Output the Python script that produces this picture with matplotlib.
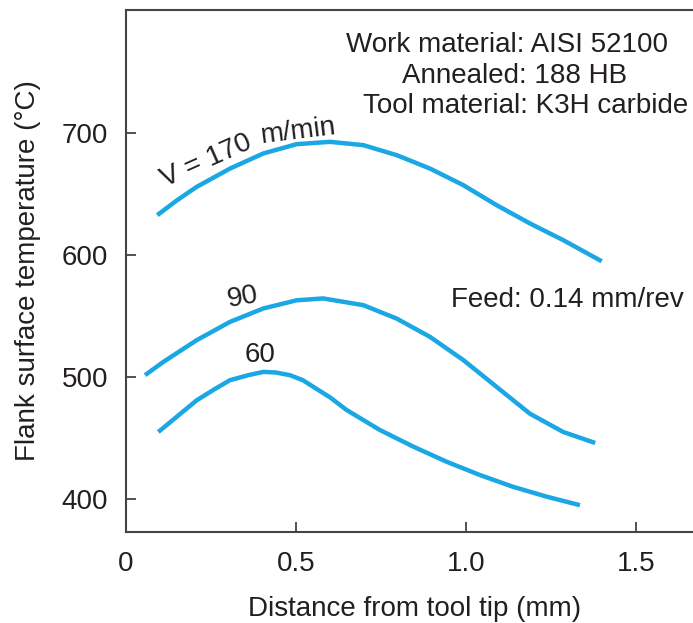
import matplotlib.pyplot as plt

plt.rcParams['font.family'] = ['Liberation Sans', 'DejaVu Sans']

# distance from tool tip (mm) and flank temperature (deg C)
x_170 = [0.092, 0.15, 0.208, 0.306, 0.404, 0.502, 0.60, 0.698, 0.796, 0.894, 0.992,
         1.09, 1.188, 1.286, 1.399]
t_170 = [632.8, 645, 656, 671, 683.4, 691, 692.9, 690.2, 682, 671, 657.4,
         641, 626, 612.3, 595]

x_90 = [0.056, 0.110, 0.208, 0.306, 0.404, 0.502, 0.58, 0.698, 0.796, 0.894,
        0.992, 1.09, 1.188, 1.286, 1.38]
t_90 = [501.6, 512.5, 530.3, 545.3, 556.3, 563, 564.5, 559, 548, 533,
        514, 492, 470, 455, 446]

x_60 = [0.095, 0.208, 0.26, 0.306, 0.36, 0.404, 0.44, 0.482, 0.52, 0.551, 0.60,
        0.649, 0.747, 0.845, 0.943, 1.041, 1.139, 1.237, 1.335]
t_60 = [455, 481, 490, 497.5, 501.6, 504.3, 503.8, 501.6, 497.5, 492, 483.4,
        473, 456.6, 443, 430.6, 419.7, 410, 402, 395]

xticks = [0, 0.5, 1.0, 1.5]
xtick_labels = ['0', '0.5', '1.0', '1.5']
yticks = [400, 500, 600, 700]

blue = '#1aa7e4'
ink = '#231f20'
fs = 20

fig = plt.figure(figsize=(6.93, 6.23), dpi=100)
ax = fig.add_axes([126 / 693, 91 / 623, 578 / 693, 522 / 623])

for xs, ts in [(x_170, t_170), (x_90, t_90), (x_60, t_60)]:
    ax.plot(xs, ts, color=blue, lw=3.2, solid_capstyle='butt', solid_joinstyle='round')

ax.set_xlim(0, 1.7)
ax.set_ylim(373, 801)
ax.set_xticks(xticks)
ax.set_xticklabels(xtick_labels)
ax.set_yticks(yticks)
ax.tick_params(direction='in', length=7, width=1.3, colors='#444444',
               labelcolor=ink, labelsize=fs, pad=13)
ax.tick_params(axis='x', pad=14)
ax.spines['right'].set_visible(False)
for s in ['left', 'top', 'bottom']:
    ax.spines[s].set_color('#444444')
    ax.spines[s].set_linewidth(1.5)
ax.xaxis.get_major_ticks()[0].tick1line.set_visible(False)

ax.set_xlabel('Distance from tool tip (mm)', fontsize=fs, color=ink, labelpad=13)
ax.set_ylabel('Flank surface temperature (\u00b0C)', fontsize=fs, color=ink, labelpad=15)

ax.text(0.115, 656, 'V = 170', fontsize=fs, color=ink, rotation=24,
        ha='left', va='baseline', rotation_mode='anchor')
ax.text(0.397, 692, 'm/min', fontsize=fs, color=ink, rotation=7,
        ha='left', va='baseline', rotation_mode='anchor')
ax.text(0.344, 565.6, '90', fontsize=fs, color=ink, rotation=10, ha='center', va='center')
ax.text(0.394, 518, '60', fontsize=fs, color=ink, ha='center', va='center')

ax.text(1.12, 772, 'Work material: AISI 52100', fontsize=fs, color=ink, ha='center', va='center')
ax.text(1.144, 746.7, 'Annealed: 188 HB', fontsize=fs, color=ink, ha='center', va='center')
ax.text(1.174, 722, 'Tool material: K3H carbide', fontsize=fs, color=ink, ha='center', va='center')
ax.text(1.297, 563, 'Feed: 0.14 mm/rev', fontsize=fs, color=ink, ha='center', va='center')

fig.savefig('out.png', dpi=100)
